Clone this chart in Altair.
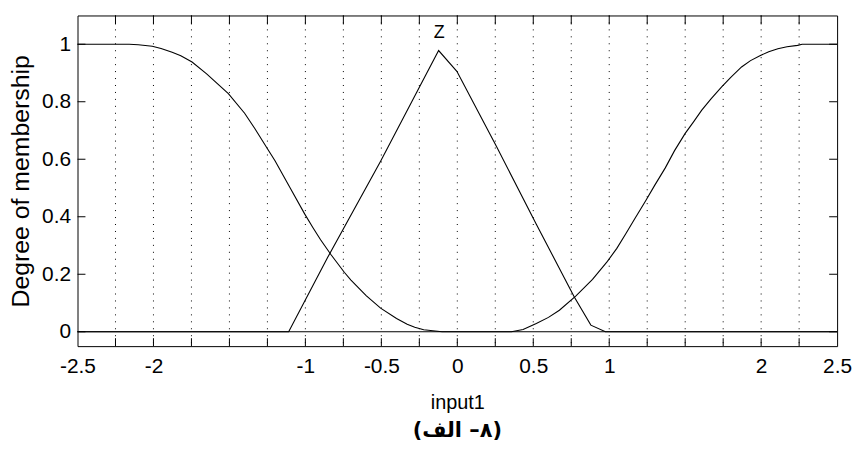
import altair as alt
import pandas as pd

# ---- data ----
mf_left_x = [-2.5, -2.16, -2.1, -2.008, -1.95, -1.877, -1.82, -1.746, -1.65, -1.507, -1.4,
             -1.332, -1.256, -1.2, -1.1, -1.005, -0.95, -0.9, -0.831, -0.744, -0.7, -0.6,
             -0.505, -0.4, -0.33, -0.28, -0.221, -0.1, 2.5]
mf_left_y = [1.0, 1.0, 0.998, 0.993, 0.985, 0.972, 0.96, 0.938, 0.897, 0.828, 0.76,
             0.706, 0.642, 0.595, 0.5, 0.41, 0.362, 0.32, 0.268, 0.207, 0.18, 0.126,
             0.082, 0.046, 0.026, 0.016, 0.007, 0.0, 0.0]

mf_z_x = [-2.5, -1.11, -0.853, -0.505, -0.243, -0.123, -0.003, 0.258, 0.52, 0.77, 0.879, 0.975, 2.5]
mf_z_y = [0.0, 0.0, 0.259, 0.593, 0.857, 0.978, 0.906, 0.644, 0.374, 0.121, 0.023, 0.0, 0.0]

mf_right_x = [-2.5, 0.356, 0.433, 0.52, 0.6, 0.672, 0.781, 0.89, 0.988, 1.05, 1.108, 1.17,
              1.239, 1.3, 1.369, 1.43, 1.5, 1.555, 1.609, 1.67, 1.74, 1.8, 1.871, 1.93,
              1.995, 2.05, 2.11, 2.17, 2.24, 2.27, 2.5]
mf_right_y = [0.0, 0.0, 0.008, 0.029, 0.05, 0.075, 0.125, 0.182, 0.245, 0.29, 0.340, 0.395,
              0.455, 0.51, 0.570, 0.63, 0.690, 0.73, 0.771, 0.81, 0.852, 0.885, 0.921, 0.943,
              0.961, 0.974, 0.984, 0.991, 0.996, 1.0, 1.0]

x_tick_values = [-2.25, -2.0, -1.75, -1.5, -1.25, -1.0, -0.75, -0.5, -0.25, 0.0,
                 0.25, 0.5, 0.75, 1.0, 1.25, 1.5, 1.75, 2.0, 2.25]
x_label_values = [-2.5, -2, -1, -0.5, 0, 0.5, 1, 2, 2.5]
y_tick_values = [0, 0.2, 0.4, 0.6, 0.8, 1]

z_label = ["Z"]
z_label_x = [-0.12]
z_label_y = [1.04]

x_title = "input1"
y_title = "Degree of membership"
# visual order: "(" + Arabic word (RTL) + " –" + digit + ")"
caption = "\u202D(\u202B\u0627\u0644\u0641\u202C \u2013\u0668)\u202C"

rows = []
for name, xs_, ys_ in (("left", mf_left_x, mf_left_y), ("Z", mf_z_x, mf_z_y),
                       ("right", mf_right_x, mf_right_y)):
    for i, (xv, yv) in enumerate(zip(xs_, ys_)):
        rows.append({"mf": name, "x": xv, "y": yv, "i": i})
df = pd.DataFrame(rows)
lab_df = pd.DataFrame({"t": z_label, "x": z_label_x, "y": z_label_y})
xt_df = pd.DataFrame({"v": x_tick_values})
yt_df = pd.DataFrame({"v": y_tick_values})

W, H, TICK = 765, 333, 8
FONT = "Liberation Sans, Arial, Helvetica, sans-serif"
xsc = alt.Scale(domain=[-2.5, 2.5], nice=False, zero=False)
ysc = alt.Scale(domain=[-0.05, 1.1], nice=False, zero=False)

grid = alt.Chart(xt_df).mark_rule(color="black", strokeWidth=1, strokeDash=[1, 6]).encode(
    x=alt.X("v:Q", scale=xsc, axis=None))

lines = alt.Chart(df).mark_line(color="black", strokeWidth=1.1).encode(
    x=alt.X("x:Q", scale=xsc, axis=alt.Axis(
        orient="bottom", values=x_label_values, labelExpr="datum.value + ''", ticks=False,
        domain=False, grid=False, labelFont=FONT, labelFontSize=21, labelColor="black",
        labelPadding=10, labelFlush=False, labelOverlap=False, title=x_title, titleFont=FONT,
        titleFontSize=20, titleFontWeight="normal", titleColor="black", titlePadding=16)),
    y=alt.Y("y:Q", scale=ysc, axis=alt.Axis(
        orient="left", values=y_tick_values, labelExpr="datum.value + ''", ticks=False,
        domain=False, grid=False, labelFont=FONT, labelFontSize=21, labelColor="black",
        labelPadding=7, labelFlush=False, labelOverlap=False, title=y_title, titleFont=FONT,
        titleFontSize=25, titleFontWeight="normal", titleColor="black", titlePadding=8)),
    detail="mf:N", order="i:Q")

bottom_ticks = alt.Chart(xt_df).mark_rule(color="black", strokeWidth=1).encode(
    x=alt.X("v:Q", scale=xsc, axis=None), y=alt.value(H - TICK), y2=alt.value(H))
top_ticks = alt.Chart(xt_df).mark_rule(color="black", strokeWidth=1).encode(
    x=alt.X("v:Q", scale=xsc, axis=None), y=alt.value(0), y2=alt.value(TICK + 1))
left_ticks = alt.Chart(yt_df).mark_rule(color="black", strokeWidth=1).encode(
    y=alt.Y("v:Q", scale=ysc, axis=None), x=alt.value(0), x2=alt.value(TICK))
right_ticks = alt.Chart(yt_df).mark_rule(color="black", strokeWidth=1).encode(
    y=alt.Y("v:Q", scale=ysc, axis=None), x=alt.value(W - TICK), x2=alt.value(W))

ztext = alt.Chart(lab_df).mark_text(font=FONT, fontSize=18, color="black", baseline="middle",
                                    align="center").encode(
    x=alt.X("x:Q", scale=xsc, axis=None),
    y=alt.Y("y:Q", scale=ysc, axis=None),
    text="t:N")

chart = alt.layer(grid, lines, bottom_ticks, top_ticks, left_ticks, right_ticks, ztext).resolve_axis(
    x="independent", y="independent"
).properties(
    width=W, height=H,
    padding={"left": 70, "top": 6, "right": 16, "bottom": 95},
    autosize=alt.AutoSizeParams(type="none"),
    background="white",
    title=alt.TitleParams(caption, orient="bottom", anchor="middle", fontSize=21,
                          fontWeight="bold", font="DejaVu Sans, Liberation Sans, sans-serif",
                          color="black", offset=8),
).configure_view(stroke="black", strokeWidth=1)

chart.save("out.html", embed_options={"renderer": "svg", "actions": False})
